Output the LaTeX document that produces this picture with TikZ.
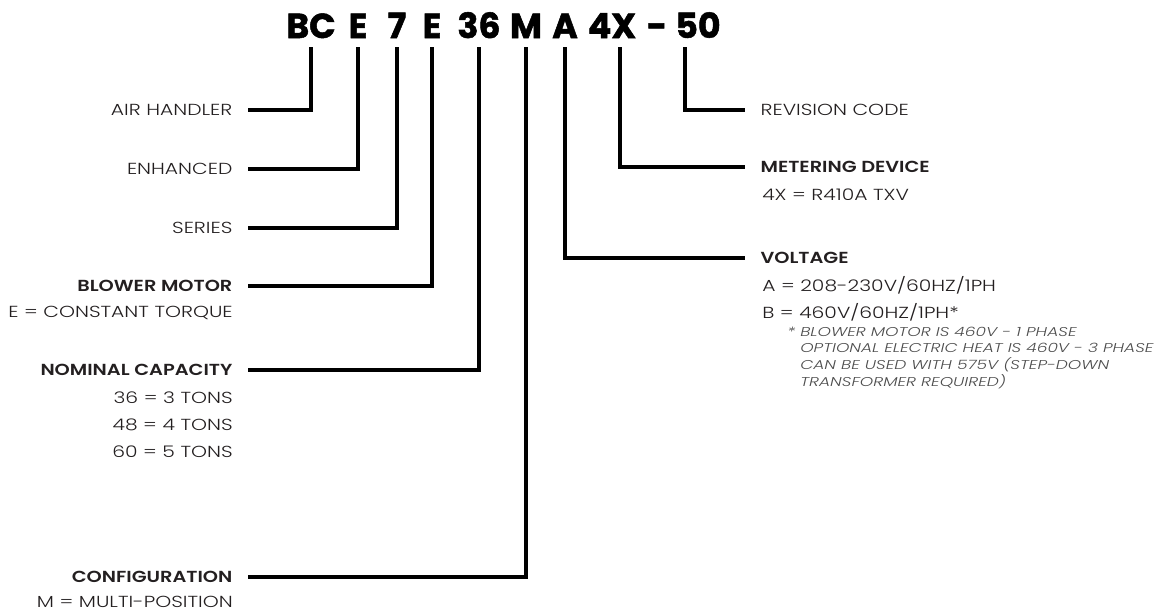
\documentclass[tikz,border=0pt]{standalone}
\usepackage{fontspec}
\setmainfont{Poppins Light}[FakeStretch=1.27,BoldFont=Poppins SemiBold,BoldFeatures={FakeStretch=1.21},ItalicFont=Poppins Light Italic,ItalicFeatures={FakeStretch=1.33}]
\newfontfamily\codefont{Poppins Bold}[FakeBold=1.5]
\usepackage{xcolor}
\definecolor{Ink}{HTML}{231F20}
\definecolor{NoteGray}{HTML}{4D4D4D}

\tikzset{
  code/.style={font=\fontsize{26}{26}\selectfont\codefont,anchor=base,inner sep=0pt},
  lbl/.style={font=\fontsize{12}{14}\selectfont,text=Ink,inner ysep=0pt,inner xsep=11.5pt},
  head/.style={lbl,font=\fontsize{12}{14}\selectfont\bfseries},
  sub/.style={font=\fontsize{12}{14}\selectfont,text=Ink,inner sep=0pt},
  note/.style={font=\fontsize{9.6}{11}\selectfont\itshape,text=NoteGray,inner sep=0pt,anchor=west},
  link/.style={line width=2.3pt,line join=miter}
}

\begin{document}
\begin{tikzpicture}[x=0.75pt,y=-0.75pt]
  \useasboundingbox (0,0) rectangle (1168,612);

  % model number
  \node[code] (bc)   at (311,38) {BC};
  \node[code] (e1)   at (358,38) {E};
  \node[code] (n7)   at (397,38) {7};
  \node[code] (e2)   at (432,38) {E};
  \node[code] (n36)  at (479,38) {36};
  \node[code] (m)    at (526,38) {M};
  \node[code] (a)    at (565,38) {A};
  \node[code] (x4)   at (612,38) {4X};
  \node[code] (dash) at (657,38) {-};
  \node[code] (n50)  at (698,38) {50};

  \foreach \nm/\xx in {BC/311,E1/358,N7/397,E2/432,N36/479,M/526,A/565,X4/620,N50/685}
    \coordinate (t\nm) at (\xx,47);

  % left side
  \node[lbl,anchor=east]  (air)    at (248,110) {AIR HANDLER};
  \node[lbl,anchor=east]  (enh)    at (248,169) {ENHANCED};
  \node[lbl,anchor=east]  (ser)    at (248,228) {SERIES};
  \node[head,anchor=east] (blower) at (248,286) {BLOWER MOTOR};
  \node[sub,anchor=east]  (blw1)   at (233,313) {E = CONSTANT TORQUE};
  \node[head,anchor=east] (cap)    at (248,370) {NOMINAL CAPACITY};
  \node[sub,anchor=east]  (cap1)   at (233,398) {36 = 3 TONS};
  \node[sub,anchor=east]  (cap2)   at (233,425) {48 = 4 TONS};
  \node[sub,anchor=east]  (cap3)   at (233,452) {60 = 5 TONS};
  \node[head,anchor=east] (conf)   at (248,577) {CONFIGURATION};
  \node[sub,anchor=east]  (conf1)  at (233,602) {M = MULTI-POSITION};

  % right side
  \node[lbl,anchor=west]  (rev)  at (745,110) {REVISION CODE};
  \node[head,anchor=west] (met)  at (745,167) {METERING DEVICE};
  \node[sub,anchor=west]  (met1) at (762,195) {4X = R410A TXV};
  \node[head,anchor=west] (volt) at (745,258) {VOLTAGE};
  \node[sub,anchor=west]  (vlt1) at (762,285) {A = 208-230V/60HZ/1PH};
  \node[sub,anchor=west]  (vlt2) at (762,312) {B = 460V/60HZ/1PH*};
  \node[note] (star) at (787,332) {*};
  \node[note] (fn1) at (800,332) {BLOWER MOTOR IS 460V - 1 PHASE};
  \node[note] (fn2) at (800,348) {OPTIONAL ELECTRIC HEAT IS 460V - 3 PHASE};
  \node[note] (fn3) at (800,365) {CAN BE USED WITH 575V (STEP-DOWN};
  \node[note] (fn4) at (800,382) {TRANSFORMER REQUIRED)};

  % leaders
  \draw[link] (tBC)  |- (air.east);
  \draw[link] (tE1)  |- (enh.east);
  \draw[link] (tN7)  |- (ser.east);
  \draw[link] (tE2)  |- (blower.east);
  \draw[link] (tN36) |- (cap.east);
  \draw[link] (tM)   |- (conf.east);
  \draw[link] (tA)   |- (volt.west);
  \draw[link] (tX4)  |- (met.west);
  \draw[link] (tN50) |- (rev.west);
\end{tikzpicture}
\end{document}
